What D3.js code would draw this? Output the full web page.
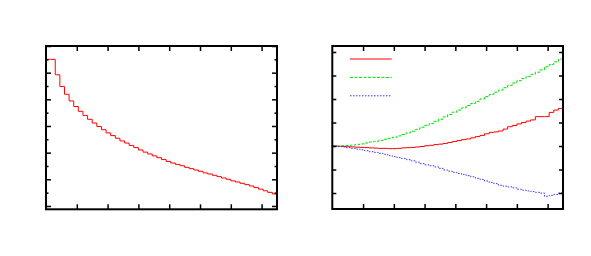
<!DOCTYPE html>
<html>
<head>
<meta charset="utf-8">
<script src="https://cdn.jsdelivr.net/npm/d3@7"></script>
<style>
  body { margin: 0; background: #fff; }
  svg { display: block; }
  .tick line { stroke: #000; stroke-width: 1.5; }
</style>
</head>
<body>
<svg id="chart" width="591" height="256"></svg>
<script>
// histogram bins (same binning for both panels)
var binWidth = 0.15;
var xTicks = [1, 2, 3, 4, 5, 6, 7];

// left panel: decaying distribution
var leftValues = [5.50, 5.50, 4.92, 4.48, 4.19, 3.94, 3.73, 3.55, 3.39, 3.25,
  3.11, 2.98, 2.86, 2.74, 2.64, 2.54, 2.44, 2.36, 2.27, 2.19,
  2.10, 2.02, 1.95, 1.88, 1.81, 1.74, 1.67, 1.61, 1.56, 1.51,
  1.45, 1.40, 1.35, 1.30, 1.24, 1.20, 1.15, 1.10, 1.05, 1.00,
  0.94, 0.90, 0.85, 0.80, 0.75, 0.69, 0.63, 0.57, 0.51, 0.45];
var leftMajorTicks = [0, 1, 2, 3, 4, 5, 6];
var leftMinorTicks = [0.5, 1.5, 2.5, 3.5, 4.5, 5.5];

// right panel: three series
var redValues = [0.00, -0.01, -0.02, -0.03, -0.04, -0.05, -0.06, -0.07, -0.08, -0.09,
  -0.10, -0.10, -0.11, -0.11, -0.10, -0.08, -0.07, -0.06, -0.04, -0.02,
  0.01, 0.03, 0.06, 0.08, 0.11, 0.15, 0.19, 0.23, 0.27, 0.30,
  0.35, 0.40, 0.45, 0.52, 0.58, 0.60, 0.64, 0.72, 0.82, 0.87,
  0.94, 1.00, 1.06, 1.11, 1.25, 1.25, 1.25, 1.43, 1.53, 1.60];
var greenValues = [0.00, 0.00, 0.01, 0.02, 0.04, 0.07, 0.09, 0.13, 0.17, 0.20,
  0.24, 0.29, 0.33, 0.37, 0.43, 0.49, 0.56, 0.63, 0.71, 0.80,
  0.88, 0.96, 1.05, 1.14, 1.24, 1.34, 1.44, 1.53, 1.62, 1.72,
  1.81, 1.90, 2.00, 2.10, 2.19, 2.29, 2.38, 2.48, 2.58, 2.68,
  2.78, 2.87, 2.96, 3.05, 3.14, 3.24, 3.37, 3.47, 3.58, 3.70];
var blueValues = [-0.01, -0.02, -0.04, -0.07, -0.10, -0.13, -0.16, -0.20, -0.24, -0.27,
  -0.31, -0.35, -0.41, -0.45, -0.49, -0.53, -0.58, -0.63, -0.69, -0.75,
  -0.80, -0.84, -0.89, -0.95, -1.02, -1.07, -1.12, -1.17, -1.21, -1.26,
  -1.31, -1.37, -1.42, -1.49, -1.55, -1.60, -1.67, -1.71, -1.74, -1.78,
  -1.84, -1.88, -1.91, -1.94, -1.97, -2.00, -2.14, -2.10, -2.06, -2.00];
var rightTicks = [-2, -1, 0, 1, 2, 3, 4];

var chart = d3.select("#chart");

// turn bin values into step points (left edge of every bin + closing point)
function stepPoints(values) {
  var pts = values.map(function(v, i) {
    return [i * binWidth, v];
  });
  pts.push([values.length * binWidth, values[values.length - 1]]);
  return pts;
}

function drawFrame(x, y, opts) {
  var x0 = x.range()[0], x1 = x.range()[1];
  var y0 = y.range()[1], y1 = y.range()[0];

  // inward ticks on all four sides
  chart.append("g")
    .attr("transform", "translate(0," + y1 + ")")
    .call(d3.axisBottom(x).tickValues(xTicks).tickSizeInner(-5).tickSizeOuter(0).tickFormat(""));
  chart.append("g")
    .attr("transform", "translate(0," + y0 + ")")
    .call(d3.axisTop(x).tickValues(xTicks).tickSizeInner(-5).tickSizeOuter(0).tickFormat(""));

  opts.yTicks.forEach(function(t) {
    chart.append("g")
      .attr("transform", "translate(" + x0 + ",0)")
      .call(d3.axisLeft(y).tickValues(t.values).tickSizeInner(-t.size).tickSizeOuter(0).tickFormat(""));
    chart.append("g")
      .attr("transform", "translate(" + x1 + ",0)")
      .call(d3.axisRight(y).tickValues(t.values).tickSizeInner(-t.size).tickSizeOuter(0).tickFormat(""));
  });

  chart.selectAll(".domain").remove();

  chart.append("rect")
    .attr("x", x0)
    .attr("y", y0)
    .attr("width", x1 - x0)
    .attr("height", y1 - y0)
    .attr("fill", "none")
    .attr("stroke", "#000")
    .attr("stroke-width", 2);
}

function drawSeries(x, y, values, color, dash) {
  var line = d3.line()
    .x(function(d) { return x(d[0]); })
    .y(function(d) { return y(d[1]); })
    .curve(d3.curveStepAfter);

  chart.append("path")
    .datum(stepPoints(values))
    .attr("d", line)
    .attr("fill", "none")
    .attr("stroke", color)
    .attr("stroke-width", 1)
    .attr("stroke-dasharray", dash);
}

// ---- left panel
var xL = d3.scaleLinear().domain([0, 7.5]).range([46, 277]);
var yL = d3.scaleLinear().domain([-0.125, 6]).range([209.3, 46]);

drawSeries(xL, yL, leftValues, "#ff0000", null);
drawFrame(xL, yL, {
  yTicks: [{ values: leftMajorTicks, size: 5 }, { values: leftMinorTicks, size: 2.5 }]
});

// ---- right panel
var xR = d3.scaleLinear().domain([0, 7.5]).range([332.3, 563]);
var yR = d3.scaleLinear().domain([-2.68, 4.255]).range([209, 46]);

var series = [
  { values: redValues, color: "#ff0000", dash: null },
  { values: greenValues, color: "#00dd00", dash: "3,1.5" },
  { values: blueValues, color: "#3333ff", dash: "1.5,1.5" }
];

series.forEach(function(s) {
  drawSeries(xR, yR, s.values, s.color, s.dash);
});
drawFrame(xR, yR, {
  yTicks: [{ values: rightTicks, size: 4 }]
});

// legend (keys only, no labels in the original)
var legend = chart.append("g");
series.forEach(function(s, i) {
  legend.append("line")
    .attr("x1", 350)
    .attr("x2", 391.7)
    .attr("y1", 59 + i * 18.4)
    .attr("y2", 59 + i * 18.4)
    .attr("stroke", s.color)
    .attr("stroke-width", 1)
    .attr("stroke-dasharray", s.dash);
});
</script>
</body>
</html>
